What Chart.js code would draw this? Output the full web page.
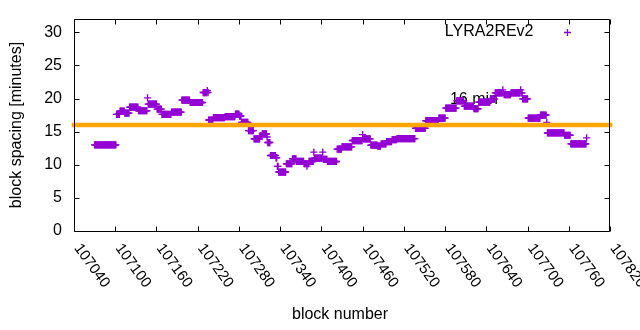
<!DOCTYPE html>
<html><head><meta charset="utf-8">
<script src="https://cdn.jsdelivr.net/npm/chart.js@4.4.1/dist/chart.umd.min.js"></script>
<style>html,body{margin:0;padding:0;background:#fff;}canvas{display:block;}</style>
</head><body>
<canvas id="c" width="640" height="330"></canvas>
<script>
const seriesName = 'LYRA2REv2';
const xTitle = 'block number';
const yTitle = 'block spacing [minutes]';
const refLabel = '16 min';
const refMinutes = 16;
const xTicks = [107040,107100,107160,107220,107280,107340,107400,107460,107520,107580,107640,107700,107760,107820];
const yTicks = [0,5,10,15,20,25,30];
// runs of consecutive blocks sharing the same (moving-average) spacing value
const runStart = [107070,107102,107107,107114,107121,107134,107147,107148,107161,107168,107182,107197,107209,107228,107234,107235,107236,107243,107260,107275,107281,107284,107294,107302,107311,107314,107321,107322,107326,107334,107336,107338,107349,107358,107364,107375,107379,107380,107382,107389,107390,107402,107403,107409,107423,107430,107445,107460,107461,107472,107482,107487,107495,107503,107510,107537,107552,107571,107581,107597,107608,107622,107629,107646,107653,107664,107665,107666,107676,107690,107691,107693,107701,107719,107728,107729,107754,107763,107786];
const runEnd = [107101,107106,107113,107120,107133,107146,107147,107160,107167,107181,107196,107208,107227,107233,107234,107235,107242,107259,107274,107280,107283,107293,107301,107310,107313,107320,107321,107325,107333,107335,107337,107348,107357,107363,107374,107378,107379,107381,107388,107389,107401,107402,107408,107422,107429,107444,107459,107460,107471,107481,107486,107494,107502,107509,107536,107551,107570,107580,107596,107607,107621,107628,107645,107652,107663,107664,107665,107675,107689,107690,107692,107700,107718,107727,107728,107753,107762,107785,107786];
const runMinutes = [13.0,17.6,18.1,17.8,18.7,18.15,20.1,19.15,18.4,17.6,17.95,19.75,19.4,20.9,21.2,20.9,16.75,17.1,17.25,17.65,17.35,16.4,15.15,13.9,14.35,14.65,14.2,13.35,11.4,11.05,9.75,8.9,10.15,10.9,10.5,10.15,9.8,10.15,10.5,11.9,11.0,11.9,10.8,10.5,12.35,12.7,13.65,14.55,13.9,12.95,12.8,13.15,13.5,13.8,13.95,15.5,16.65,17.05,18.55,19.65,18.85,18.45,19.45,19.9,20.85,21.3,20.85,20.6,20.85,21.3,20.85,19.95,17.05,17.5,16.4,14.8,14.45,13.15,14.05];

const points = [];
for (let i = 0; i < runStart.length; i++) {
  for (let b = runStart[i]; b <= runEnd[i]; b++) points.push({x: b, y: runMinutes[i]});
}
const xMin = xTicks[0], xMax = xTicks[xTicks.length - 1];
const refLabelX = 107587, refLabelY = 19.9;

const FONT = '"Liberation Sans", Arial, sans-serif';
const PURPLE = '#9400D3';
const ORANGE = '#FFA500';

const gp = {
  id: 'gp',
  beforeDatasetsDraw(chart) {
    const {ctx, scales: {x, y}} = chart;
    ctx.save();
    ctx.font = '16px ' + FONT;
    ctx.fillStyle = '#000';
    ctx.textAlign = 'left';
    ctx.textBaseline = 'middle';
    ctx.fillText(refLabel, x.getPixelForValue(refLabelX), y.getPixelForValue(refLabelY));
    ctx.restore();
  },
  afterDraw(chart) {
    const {ctx, chartArea: a, scales: {x, y}} = chart;
    ctx.save();
    const L = a.left + 0.5, R = a.right - 0.5, T = a.top + 0.5, B = a.bottom + 0.5;
    ctx.strokeStyle = '#000';
    ctx.lineWidth = 1;
    ctx.beginPath();
    ctx.rect(L, T, R - L, B - T);
    const tl = 5;
    xTicks.forEach(v => {
      const px = Math.round(x.getPixelForValue(v)) + 0.5;
      ctx.moveTo(px, B); ctx.lineTo(px, B - tl);
      ctx.moveTo(px, T); ctx.lineTo(px, T + tl);
    });
    yTicks.forEach(v => {
      const py = Math.round(y.getPixelForValue(v)) + 0.5;
      ctx.moveTo(L, py); ctx.lineTo(L + tl, py);
      ctx.moveTo(R, py); ctx.lineTo(R - tl, py);
    });
    ctx.stroke();

    ctx.fillStyle = '#000';
    ctx.font = '16px ' + FONT;
    ctx.textAlign = 'right';
    ctx.textBaseline = 'middle';
    yTicks.forEach(v => ctx.fillText(String(v), 62, y.getPixelForValue(v)));
    ctx.font = '15px ' + FONT;
    ctx.textAlign = 'left';
    xTicks.forEach(v => {
      const px = x.getPixelForValue(v);
      ctx.save();
      ctx.translate(px + 3, a.bottom + 14.5);
      ctx.rotate(54 * Math.PI / 180);
      ctx.fillText(String(v), 0, 0);
      ctx.restore();
    });
    ctx.font = '16px ' + FONT;
    ctx.textAlign = 'center';
    ctx.fillText(xTitle, (a.left + a.right) / 2 - 2, 315);
    ctx.save();
    ctx.translate(16.5, (a.top + a.bottom) / 2);
    ctx.rotate(-Math.PI / 2);
    ctx.fillText(yTitle, 0, 0);
    ctx.restore();
    ctx.textAlign = 'right';
    ctx.fillText(seriesName, 533.5, 32);
    ctx.strokeStyle = PURPLE;
    ctx.lineWidth = 1.3;
    ctx.beginPath();
    ctx.moveTo(564, 32.5); ctx.lineTo(571, 32.5);
    ctx.moveTo(567.5, 29); ctx.lineTo(567.5, 36);
    ctx.stroke();
    ctx.restore();
  }
};

new Chart(document.getElementById('c'), {
  type: 'scatter',
  data: {
    datasets: [
      {
        type: 'line',
        label: refLabel,
        data: [{x: xMin, y: refMinutes}, {x: xMax, y: refMinutes}],
        borderColor: ORANGE,
        borderWidth: 4.5,
        borderCapStyle: 'square',
        pointRadius: 0,
        clip: false,
        fill: false
      },
      {
        label: seriesName,
        data: points,
        pointStyle: 'cross',
        pointRadius: 3.6,
        pointBorderWidth: 1.4,
        borderColor: PURPLE,
        backgroundColor: PURPLE,
        pointHoverRadius: 3.6
      }
    ]
  },
  options: {
    responsive: false,
    animation: false,
    devicePixelRatio: 1,
    events: [],
    layout: {padding: {top: 19, right: 30, left: 0, bottom: 0}},
    plugins: {legend: {display: false}, tooltip: {enabled: false}},
    scales: {
      x: {
        type: 'linear', min: xMin, max: xMax,
        ticks: {display: false}, grid: {display: false}, border: {display: false},
        afterFit(s) { s.height = 99; }
      },
      y: {
        type: 'linear', min: 0, max: 32,
        ticks: {display: false}, grid: {display: false}, border: {display: false},
        afterFit(s) { s.width = 74; }
      }
    }
  },
  plugins: [gp]
});
</script>
</body></html>
